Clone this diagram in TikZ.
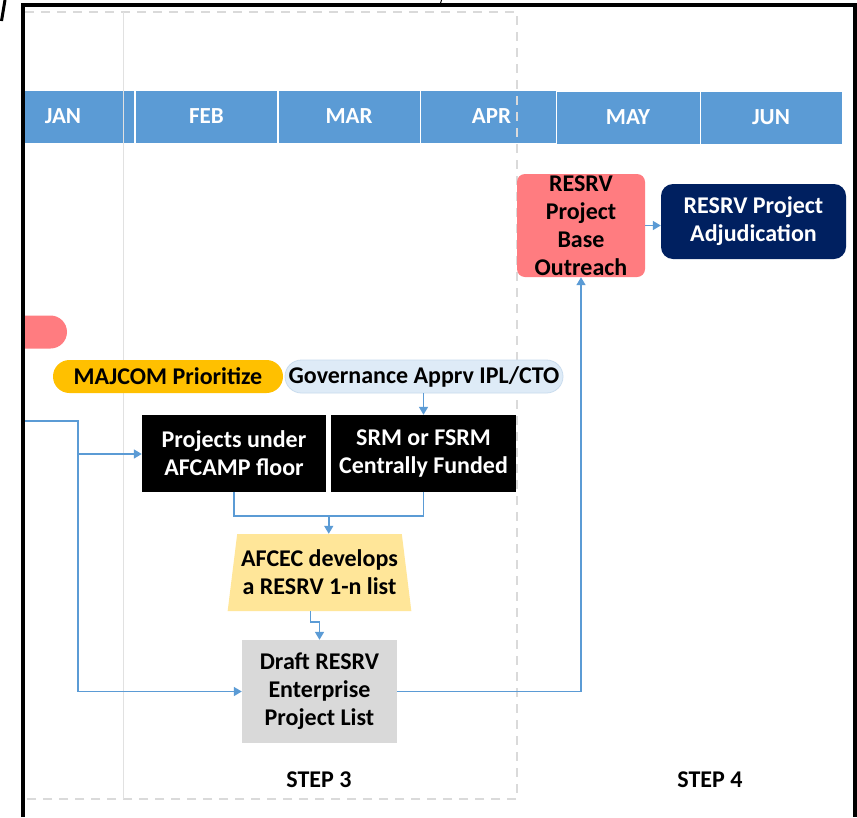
\documentclass[tikz,border=0pt]{standalone}
\usepackage{fontspec}
\setmainfont{Carlito}
\usetikzlibrary{arrows.meta,shapes.geometric,calc}
\definecolor{barblue}{HTML}{5B9BD5}
\definecolor{lineblue}{HTML}{5B9BD5}
\definecolor{gold}{HTML}{FFC000}
\definecolor{govfill}{HTML}{DEEBF7}
\definecolor{govdraw}{HTML}{C9DCEE}
\definecolor{salmon}{HTML}{FF7C80}
\definecolor{navy}{HTML}{002060}
\definecolor{trapfill}{HTML}{FFE699}
\definecolor{greyfill}{HTML}{D9D9D9}
\definecolor{dashgrey}{HTML}{DADADA}
\tikzset{
  month/.style={fill=barblue,draw=white,line width=0.8pt,minimum width=142,minimum height=53,inner sep=0,text=white,font=\fontsize{23}{26}\selectfont\bfseries},
  pill/.style={rounded corners=16.5,minimum height=33,inner sep=0,font=\fontsize{24}{26}\selectfont\bfseries},
  boxtext/.style={inner sep=0,align=center,font=\fontsize{24}{28}\selectfont\bfseries},
  blackbox/.style={boxtext,fill=black,text=white,minimum width=184,minimum height=77},
  conn/.style={draw=lineblue,line width=1.5pt},
  arr/.style={conn,-{Triangle[width=9pt,length=8pt]}},
  steplabel/.style={font=\fontsize{24}{26}\selectfont\bfseries}
}
\begin{document}
\begin{tikzpicture}[x=1pt,y=-1pt]
\useasboundingbox (0,0) rectangle (857,817);
\fill[white] (0,0) rectangle (857,817);
\begin{scope}
\clip (25,7) rectangle (853,817);
% month bar
\node[month] (jan) at (63,116.5) {JAN};
\node[month] (feb) at (206.5,116.5) {FEB};
\node[month] (mar) at (349,116.5) {MAR};
\node[month,minimum width=143] (apr) at (491.5,116.5) {APR};
\node[month,minimum width=144] (may) at (628,117.5) {MAY};
\node[month] (jun) at (771,117.5) {JUN};
% frames
\draw[dashgrey,line width=1.3pt,dash pattern=on 9pt off 7pt] (25,12) -- (517,12) -- (517,799) -- (25,799);
\draw[dashgrey!80,line width=0.8pt] (123,12) -- (123,799);
% partial pink
\node[pill,fill=salmon,minimum width=94] (pinkleft) at (20,332) {};
\end{scope}
% nodes
\node[pill,fill=gold,minimum width=230] (majcom) at (168,376.5) {MAJCOM Prioritize};
\node[pill,fill=govfill,draw=govdraw,line width=0.8pt,minimum width=278] (gov) at (424,376.5) {Governance Apprv IPL/CTO};
\node[blackbox] (proj) at (234,453.5) {Projects under\\AFCAMP floor};
\node[blackbox,minimum width=185] (srm) at (423.5,453.5) {SRM or FSRM\\Centrally Funded};
\node[boxtext,trapezium,trapezium stretches=true,trapezium left angle=78.6,trapezium right angle=78.6,fill=trapfill,minimum width=184,minimum height=77] (afcec) at (319.5,572.5) {AFCEC develops\\a RESRV 1-n list};
\node[boxtext,fill=greyfill,minimum width=155,minimum height=103] (draft) at (319.5,691.5) {Draft RESRV\\Enterprise\\Project List};
\node[boxtext,fill=salmon,rounded corners=8,minimum width=128,minimum height=103] (outreach) at (581,225.5) {RESRV\\Project\\Base\\Outreach};
\node[boxtext,fill=navy,text=white,rounded corners=12,minimum width=185,minimum height=75] (adj) at (753.5,221.5) {RESRV Project\\Adjudication};
\node[steplabel] (step3) at (319,780) {STEP 3};
\node[steplabel] (step4) at (710,780) {STEP 4};
% connectors
\coordinate (lstart) at (25,421);
\coordinate (lbend) at (78,421);
\coordinate (lbranch) at (78,454);
\draw[conn] (lstart) -- (lbend) -- (lbend |- draft.west);
\draw[arr] (lbend |- draft.west) -- (draft.west);
\draw[arr] (lbranch) -- (lbranch -| proj.west);
\draw[arr] (gov.south -| srm.north) -- (srm.north);
\coordinate (m) at ($(proj.south)!0.5!(srm.south)+(0,24)$);
\draw[conn] (proj.south) -- ++(0,24) -| (srm.south);
\draw[arr] (m) -- (m |- afcec.north);
\draw[arr] ([xshift=-9pt]afcec.south) -- ++(0,11) -| (draft.north);
\draw[arr] (draft.east) -| (outreach.south);
\draw[arr] (outreach.east) -- (outreach.east -| adj.west);
% outer black frame
\draw[black,line width=4pt] (23,817) -- (23,5) -- (855,5) -- (855,817);
\draw[black,line width=3pt] (1.5,21) -- (5,0);
\draw[black,line width=1pt] (441.5,0) -- (440,5);
\end{tikzpicture}
\end{document}
